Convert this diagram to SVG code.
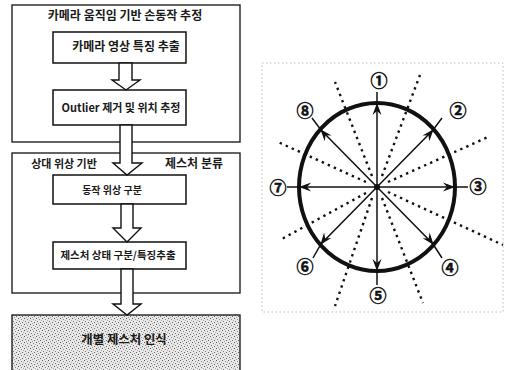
<svg xmlns="http://www.w3.org/2000/svg" width="507" height="370" viewBox="0 0 507 370">
<defs>
<style>
.box{fill:#fff;stroke:#111;stroke-width:1.5}
.outer{fill:none;stroke:#222;stroke-width:1.4}
.t{font-family:"Noto Sans CJK KR","Noto Sans",sans-serif;font-weight:bold;font-size:10.5px;fill:#1a1a1a;text-anchor:middle}
.barr{fill:#fff;stroke:#111;stroke-width:1.4;stroke-linejoin:miter}
.dot{stroke:#111;stroke-width:2.4;stroke-dasharray:2.4 4.2;fill:none}
.ray{stroke:#111;stroke-width:1.5;fill:none;marker-mid:url(#ah)}
.num{font-family:"Noto Sans CJK KR","DejaVu Sans",sans-serif;font-size:17px;font-weight:bold;fill:#111;stroke:#111;stroke-width:0.5;text-anchor:middle}
</style>
<marker id="ah" markerWidth="14" markerHeight="12" viewBox="-12 -6 14 12" refX="0" refY="0" orient="auto" markerUnits="userSpaceOnUse">
<path d="M1,0 L-11,-4.5 L-7,0 L-11,4.5 Z" fill="#111"/>
</marker>
<pattern id="stip" width="6" height="6" patternUnits="userSpaceOnUse">
<rect width="6" height="6" fill="#e8e8e8"/>
<rect x="0" y="0" width="1" height="1" fill="#555"/>
<rect x="3" y="1" width="1" height="1" fill="#888"/>
<rect x="1" y="3" width="1" height="1" fill="#777"/>
<rect x="4" y="4" width="1" height="1" fill="#666"/>
<rect x="5" y="2" width="1" height="1" fill="#aaa"/>
<rect x="2" y="5" width="1" height="1" fill="#999"/>
</pattern>
</defs>
<rect width="507" height="370" fill="#fff"/>

<g id="group1">
<rect class="outer" x="12" y="5" width="228" height="137"/>
<text class="t" x="125" y="20" style="font-size:12px">카메라 움직임 기반 손동작 추정</text>
</g>
<g id="group2">
<rect class="outer" x="12" y="153" width="228" height="140"/>
<text class="t" x="64" y="168" style="font-size:11px">상대 위상 기반</text>
<text class="t" x="194" y="168" style="font-size:12px">제스처 분류</text>
</g>

<g id="n1">
<rect class="box" x="53" y="32" width="133" height="31"/>
<text class="t" x="126" y="51" style="font-size:12px">카메라 영상 특징 추출</text>
</g>
<g id="n2">
<rect class="box" x="53" y="90" width="133" height="35"/>
<text class="t" x="121" y="112" style="font-size:11px">Outlier 제거 및 위치 추정</text>
</g>
<g id="n3">
<rect class="box" x="53" y="175" width="133" height="29"/>
<text class="t" x="112" y="194" style="font-size:10px">동작 위상 구분</text>
</g>
<g id="n4">
<rect class="box" x="53" y="242" width="133" height="27"/>
<text class="t" x="118" y="259">제스처 상태 구분/특징추출</text>
</g>
<g id="n5">
<rect x="12" y="315" width="228" height="58" fill="url(#stip)" stroke="#222" stroke-width="1.4"/>
<text class="t" x="124" y="344" style="font-size:12.4px">개별 제스처 인식</text>
</g>

<g id="connectors">
<polygon class="barr" points="119,63 132,63 132,80 140,80 126,90 112,80 119,80"/>
<polygon class="barr" points="120,125 132,125 132,163 142,163 127,175 113,163 120,163"/>
<polygon class="barr" points="121,204 133,204 133,228 141,228 127,242 113,228 121,228"/>
<polygon class="barr" points="121,269 133,269 133,304 141,304 127,315 113,304 121,304"/>
</g>

<g id="direction-diagram">
<rect x="262" y="63" width="241" height="249" fill="none" stroke="#aaa" stroke-width="0.8" stroke-dasharray="1.5 2.5"/>
<g id="sector-lines">
<line class="dot" x1="372" y1="176" x2="335" y2="82"/>
<line class="dot" x1="382" y1="176" x2="420" y2="75"/>
<line class="dot" x1="366" y1="182" x2="278" y2="142"/>
<line class="dot" x1="388" y1="182" x2="488" y2="137"/>
<line class="dot" x1="366" y1="193" x2="280" y2="240"/>
<line class="dot" x1="388" y1="192" x2="503" y2="245"/>
<line class="dot" x1="372" y1="198" x2="335" y2="306"/>
<line class="dot" x1="382" y1="198" x2="423" y2="303"/>
</g>
<ellipse cx="377" cy="187" rx="78" ry="84" fill="none" stroke="#111" stroke-width="4"/>
<g id="rays">
<polyline class="ray" points="377,187 377,104 377,92"/>
<polyline class="ray" points="377,187 433,130 442,118"/>
<polyline class="ray" points="377,187 454,187 468,187"/>
<polyline class="ray" points="377,187 433,244 442,258"/>
<polyline class="ray" points="377,187 377,270 377,285"/>
<polyline class="ray" points="377,187 321,244 313,258"/>
<polyline class="ray" points="377,187 300,187 287,187"/>
<polyline class="ray" points="377,187 321,130 312,118"/>
</g>
<circle cx="377" cy="187" r="3" fill="#111"/>
<g id="labels">
<text class="num" x="379" y="87">①</text>
<text class="num" x="458" y="117">②</text>
<text class="num" x="478" y="193">③</text>
<text class="num" x="450" y="274">④</text>
<text class="num" x="378" y="302">⑤</text>
<text class="num" x="305" y="273">⑥</text>
<text class="num" x="278" y="194">⑦</text>
<text class="num" x="305" y="117">⑧</text>
</g>
</g>
</svg>
